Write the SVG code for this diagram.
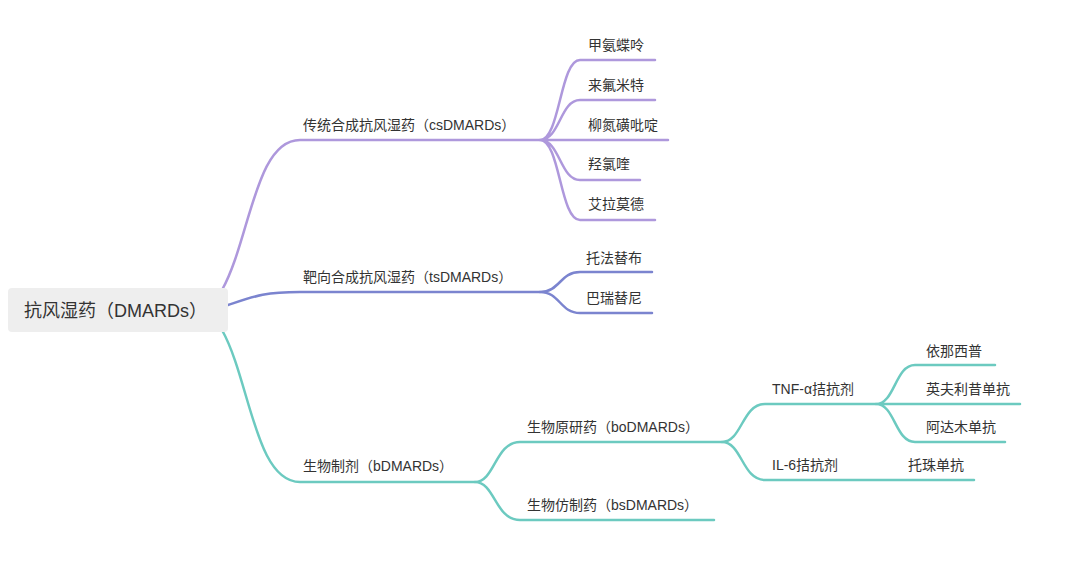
<svg xmlns="http://www.w3.org/2000/svg" width="1080" height="576" viewBox="0 0 1080 576">
<style>
text{font-family:"Liberation Sans","Noto Sans CJK SC",sans-serif;font-size:14px;fill:#333}
.c{fill:none;stroke-width:2.5;stroke-linecap:round}
.p{stroke:#ae98dc}.b{stroke:#7b84cf}.t{stroke:#6ccac0}
</style>
<rect width="1080" height="576" fill="#fff"/>
<g id="connectors">
<path class="c p" d="M222,290 C250,240 255,140 300,140 L540,140"/>
<path class="c p" d="M540,140 C560,140 560,60 580,60 L655,60 M540,140 C560,140 560,100 580,100 L655,100 M540,140 L668,140 M540,140 C560,140 560,180 580,180 L640,180 M540,140 C560,140 560,220 580,220 L655,220"/>
<path class="c b" d="M228,305 C255,296 265,292 300,292 L540,292"/>
<path class="c b" d="M540,292 C560,292 560,272 580,272 L652,272 M540,292 C560,292 560,313 580,313 L652,313"/>
<path class="c t" d="M222,330 C250,380 255,482 300,482 L475,482"/>
<path class="c t" d="M475,482 C495,482 495,442 520,442 L722,442 M475,482 C495,482 495,520 520,520 L714,520"/>
<path class="c t" d="M722,442 C742,442 742,404 765,404 L876,404 M722,442 C742,442 742,480 765,480 L974,480"/>
<path class="c t" d="M876,404 C895,404 895,365 915,365 L995,365 M876,404 L1020,404 M876,404 C895,404 895,442 915,442 L1005,442"/>
</g>
<g id="root"><rect x="8" y="288" width="220" height="44" rx="4" fill="#eeeeee"/><text x="24" y="317" style="font-size:18px">抗风湿药（DMARDs）</text></g>
<g id="cs"><text x="303" y="130">传统合成抗风湿药（csDMARDs）</text></g>
<g id="cs1"><text x="588" y="50">甲氨蝶呤</text></g>
<g id="cs2"><text x="588" y="90">来氟米特</text></g>
<g id="cs3"><text x="588" y="130">柳氮磺吡啶</text></g>
<g id="cs4"><text x="588" y="169">羟氯喹</text></g>
<g id="cs5"><text x="588" y="209">艾拉莫德</text></g>
<g id="ts"><text x="303" y="282">靶向合成抗风湿药（tsDMARDs）</text></g>
<g id="ts1"><text x="586" y="263">托法替布</text></g>
<g id="ts2"><text x="586" y="303">巴瑞替尼</text></g>
<g id="b"><text x="303" y="471">生物制剂（bDMARDs）</text></g>
<g id="bo"><text x="527" y="432">生物原研药（boDMARDs）</text></g>
<g id="bs"><text x="527" y="510">生物仿制药（bsDMARDs）</text></g>
<g id="tnf"><text x="772" y="394">TNF-α拮抗剂</text></g>
<g id="il6"><text x="772" y="470">IL-6拮抗剂</text></g>
<g id="toc"><text x="908" y="470">托珠单抗</text></g>
<g id="t1"><text x="926" y="356">依那西普</text></g>
<g id="t2"><text x="926" y="394">英夫利昔单抗</text></g>
<g id="t3"><text x="926" y="432">阿达木单抗</text></g>
</svg>
